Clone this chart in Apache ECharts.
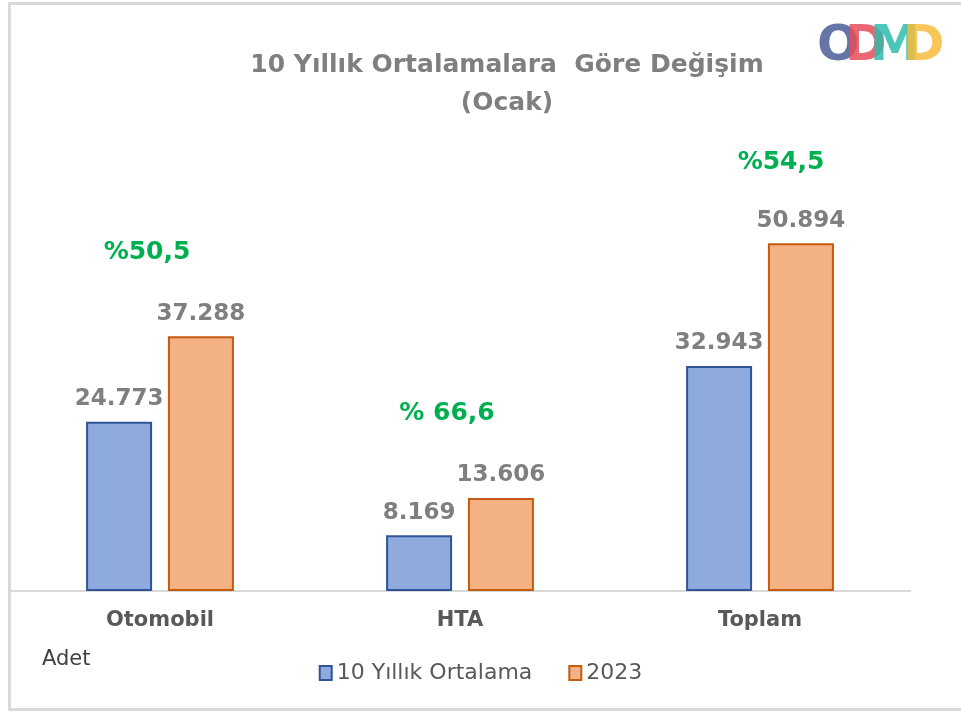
<!DOCTYPE html>
<html>
<head>
<meta charset="utf-8">
<script src="https://cdn.jsdelivr.net/npm/echarts@6/dist/echarts.min.js"></script>
<style>
  html, body { margin: 0; padding: 0; background: #fff; }
  #main { width: 961px; height: 712px; }
</style>
</head>
<body>
<div id="main"></div>
<script>
// kategoriler ve seriler
var categories = ['Otomobil', 'HTA', 'Toplam'];
var avg10 = [24773, 8169, 32943];
var y2023 = [37288, 13606, 50894];
var seriesNames = ['10 Yıllık Ortalama', '2023'];
var pctLabels = ['%50,5', '% 66,6', '%54,5'];

var myChart = echarts.init(document.getElementById('main'));

function fmt(v) {
  return String(v).replace(/\B(?=(\d{3})+(?!\d))/g, '.');
}

var labelStyle = {
  show: true,
  position: 'top',
  distance: 11,
  fontFamily: 'DejaVu Sans',
  fontWeight: 'bold',
  fontSize: 23,
  color: '#7f7f7f',
  formatter: function (p) { return fmt(p.value); }
};

var pctStyle = {
  fontFamily: 'DejaVu Sans',
  fontWeight: 'bold',
  fontSize: 25,
  fill: '#00b050',
  textAlign: 'center',
  textVerticalAlign: 'middle'
};

// logo harfleri
function logoLetter(ch, x, color) {
  return {
    type: 'text', left: x, top: 22, z: 10,
    style: { text: ch, fontFamily: 'DejaVu Sans', fontWeight: 'bold', fontSize: 50, fill: color, opacity: 0.85 }
  };
}

var option = {
  animation: false,
  title: {
    text: '10 Yıllık Ortalamalara  Göre Değişim\n(Ocak)',
    left: 502,
    top: 41,
    textAlign: 'center',
    textStyle: {
      fontFamily: 'DejaVu Sans',
      fontWeight: 'bold',
      fontSize: 25,
      lineHeight: 38,
      color: '#7f7f7f'
    }
  },
  legend: {
    data: seriesNames,
    left: 'center',
    top: 657,
    icon: 'rect',
    itemWidth: 12,
    itemHeight: 14,
    itemGap: 36,
    textStyle: { fontFamily: 'DejaVu Sans', fontSize: 22, color: '#595959' }
  },
  grid: { left: 10, right: 51, top: 181, bottom: 121 },
  xAxis: {
    type: 'category',
    data: categories,
    axisLine: { lineStyle: { color: '#d9d9d9', width: 2 } },
    axisTick: { show: false },
    axisLabel: {
      margin: 19,
      fontFamily: 'DejaVu Sans',
      fontWeight: 'bold',
      fontSize: 21,
      color: '#595959'
    }
  },
  yAxis: {
    type: 'value',
    min: 0,
    max: 60000,
    show: false,
    splitLine: { show: false }
  },
  series: [
    {
      name: seriesNames[0],
      type: 'bar',
      data: avg10,
      barWidth: 66,
      barGap: '24%',
      itemStyle: { color: '#8faadc', borderColor: '#2f5597', borderWidth: 2 },
      label: labelStyle
    },
    {
      name: seriesNames[1],
      type: 'bar',
      data: y2023,
      barWidth: 66,
      itemStyle: { color: '#f4b183', borderColor: '#c55a11', borderWidth: 2 },
      label: labelStyle
    }
  ],
  graphic: [
    {
      type: 'rect', left: 7, top: 1, silent: true,
      shape: { width: 970, height: 706 },
      style: { fill: 'none', stroke: '#d9d9d9', lineWidth: 3 }
    },
    {
      type: 'text', left: 42, top: 649,
      style: { text: 'Adet', fontFamily: 'DejaVu Sans', fontSize: 21, fill: '#404040' }
    },
    { type: 'text', x: 147, y: 252, style: Object.assign({ text: pctLabels[0] }, pctStyle) },
    { type: 'text', x: 447, y: 413, style: Object.assign({ text: pctLabels[1] }, pctStyle) },
    { type: 'text', x: 781, y: 162, style: Object.assign({ text: pctLabels[2] }, pctStyle) },
    logoLetter('O', 817, '#4a5d99'),
    logoLetter('D', 845, '#e84c5a'),
    logoLetter('M', 870, '#2ebcae'),
    logoLetter('D', 903, '#f8bc3c')
  ]
};

myChart.setOption(option);
</script>
</body>
</html>
